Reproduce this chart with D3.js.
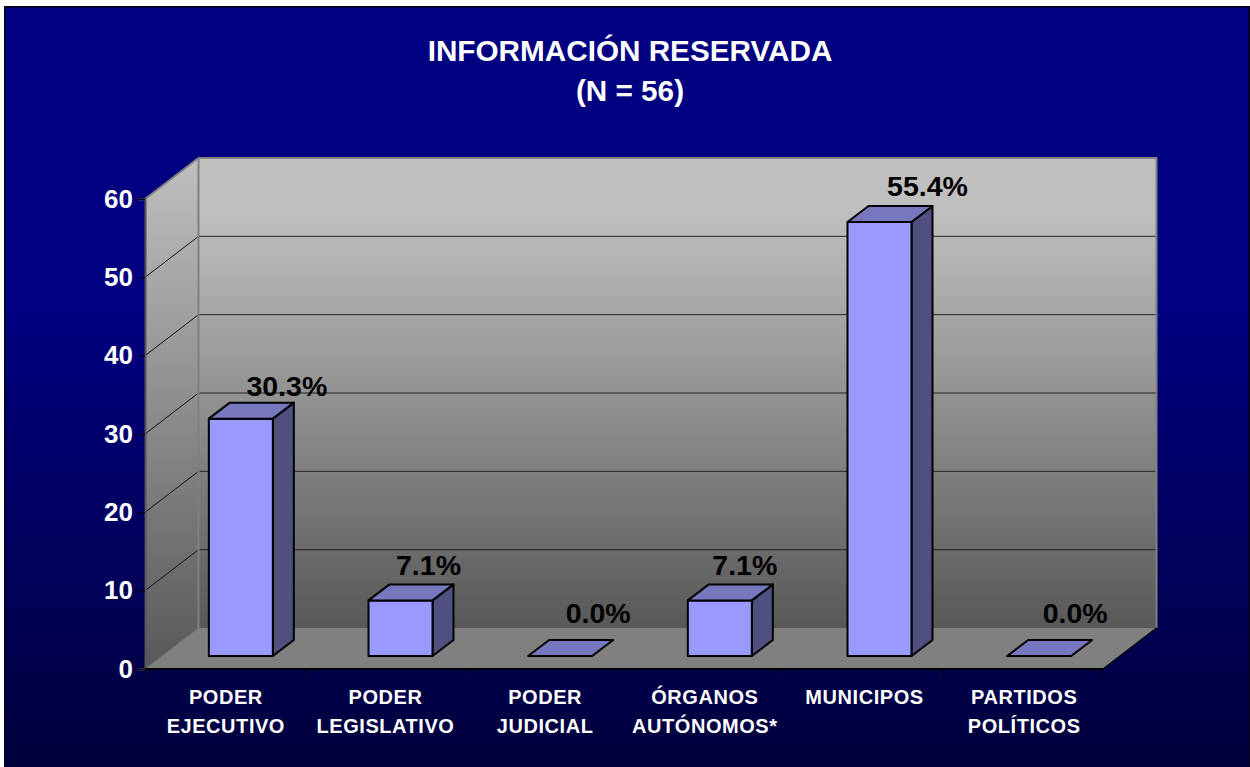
<!DOCTYPE html>
<html><head><meta charset="utf-8">
<script src="https://cdn.jsdelivr.net/npm/d3@7/dist/d3.min.js"></script>
<style>html,body{margin:0;padding:0;background:#fff;overflow:hidden}svg{display:block}text{font-family:"Liberation Sans",Arial,sans-serif;font-weight:700}</style>
</head><body><svg id="c" width="1250" height="767"></svg>
<script>
const titleLines = ["INFORMACIÓN RESERVADA", "(N = 56)"];
const categories = [["PODER","EJECUTIVO"],["PODER","LEGISLATIVO"],["PODER","JUDICIAL"],["ÓRGANOS","AUTÓNOMOS*"],["MUNICIPOS"],["PARTIDOS","POLÍTICOS"]];
const values = [30.3, 7.1, 0.0, 7.1, 55.4, 0.0];
const valueLabels = ["30.3%","7.1%","0.0%","7.1%","55.4%","0.0%"];
const yTicks = [0,10,20,30,40,50,60];
// hand-placed label nudges, as in the original chart
const labelDx = [46,28,38,25,48,36];
const labelDy = [-23,-25,-33,-25,-26,-33];

const svg = d3.select("#c");
const defs = svg.append("defs");
const grad = (id, stops, y1, y2) => {
  const g = defs.append("linearGradient").attr("id", id).attr("gradientUnits","userSpaceOnUse")
    .attr("x1",0).attr("x2",0).attr("y1",y1).attr("y2",y2);
  stops.forEach(s => g.append("stop").attr("offset",s[0]).attr("stop-color",s[1]));
};
grad("bg", [[0,"#000080"],[0.4,"#000080"],[1,"#00003c"]], 7, 767);
grad("wall", [[0,"#c0c0c0"],[0.12,"#bfbfbf"],[1,"#585858"]], 157, 628);
grad("side", [[0,"#c0c0c0"],[1,"#585858"]], 157, 669);

const y = d3.scaleLinear().domain([0,60]).range([669,199]);
const x = d3.scaleBand().domain(d3.range(categories.length)).range([145,1103]);
const DX = 53.5, DY = 41;
const barW = 64, barDX = 21, barDY = 16, barOffX = 16, barOffY = 13;
const poly = (pts) => "M" + pts.map(p => p.join(",")).join("L") + "Z";

// frame
svg.append("rect").attr("x",4).attr("y",6).attr("width",1246).attr("height",761).attr("fill","#00002a");
svg.append("rect").attr("x",6).attr("y",8).attr("width",1242).attr("height",759).attr("fill","url(#bg)");

// title
svg.append("g").selectAll("text").data(titleLines).join("text")
  .attr("x",630).attr("y",(d,i)=>61+i*40).attr("text-anchor","middle")
  .attr("font-size",29.7).attr("fill","#fff").text(d=>d);

const x0 = x.range()[0], x1 = x.range()[1], yB = y(0), yT = y(60);
// walls
svg.append("path").attr("d",poly([[x0,yT],[x0+DX,yT-DY],[x0+DX,yB-DY],[x0,yB]])).attr("fill","url(#side)");
svg.append("rect").attr("x",x0+DX).attr("y",yT-DY).attr("width",x1-x0).attr("height",yB-yT).attr("fill","url(#wall)");
svg.append("path").attr("d",poly([[x0,yB],[x0+DX,yB-DY],[x1+DX,yB-DY],[x1,yB]])).attr("fill","#808080");

// gridlines
const grid = svg.append("g");
yTicks.filter(t=>t>0&&t<60).forEach(t=>{
  grid.append("line").attr("x1",x0).attr("y1",y(t)).attr("x2",x0+DX).attr("y2",y(t)-DY).attr("stroke","#111").attr("stroke-width",1);
  grid.append("line").attr("x1",x0+DX).attr("y1",y(t)-DY).attr("x2",x1+DX).attr("y2",y(t)-DY).attr("stroke","#222").attr("stroke-width",1);
});
// wall edges
svg.append("path").attr("d",`M${x0},${yT}L${x0+DX},${yT-DY}L${x1+DX},${yT-DY}L${x1+DX},${yB-DY}M${x0+DX},${yT-DY}L${x0+DX},${yB-DY}`)
  .attr("fill","none").attr("stroke","#808080").attr("stroke-width",2);
svg.append("line").attr("x1",x1).attr("y1",yB).attr("x2",x1+DX).attr("y2",yB-DY).attr("stroke","#000").attr("stroke-width",1.2);
svg.append("line").attr("x1",x0).attr("y1",yB).attr("x2",x0+DX).attr("y2",yB-DY).attr("stroke","#777").attr("stroke-width",1);

// axes
const yAxis = d3.axisLeft(y).tickValues(yTicks).tickSize(7).tickPadding(5);
const gy = svg.append("g").attr("transform",`translate(${x0},0)`).call(yAxis);
gy.select(".domain").attr("stroke","#555").attr("stroke-width",2);
gy.selectAll(".tick line").attr("stroke","#000");
gy.selectAll("text").attr("font-size",26).attr("fill","#fff").attr("font-family",'"Liberation Sans",Arial,sans-serif').attr("font-weight",700);

const gx = svg.append("g");
gx.append("line").attr("x1",x0).attr("x2",x1).attr("y1",yB).attr("y2",yB).attr("stroke","#000").attr("stroke-width",2);
gx.selectAll("line.t").data(d3.range(categories.length+1)).join("line").attr("class","t")
  .attr("x1",i=>x0+i*x.step()).attr("x2",i=>x0+i*x.step()).attr("y1",yB).attr("y2",yB+7).attr("stroke","#000");
const cat = gx.selectAll("g.c").data(categories).join("g").attr("class","c");
cat.each(function(lines,i){
  d3.select(this).selectAll("text").data(lines).join("text")
    .attr("x",x(i)+x.bandwidth()/2+1).attr("y",(d,j)=>704+j*29).attr("text-anchor","middle")
    .attr("font-size",20).attr("letter-spacing",0.55).attr("fill","#fff").text(d=>d);
});

// bars
const bars = svg.append("g").attr("stroke","#000").attr("stroke-width",2).attr("stroke-linejoin","round");
values.forEach((v,i)=>{
  const l = x(i)+x.bandwidth()/2+barOffX-barW/2, r = l+barW, b = y(0)-barOffY, t = y(v)-barOffY;
  if (v > 0) {
    bars.append("path").attr("d",poly([[r,t],[r+barDX,t-barDY],[r+barDX,b-barDY],[r,b]])).attr("fill","#4f4f80");
    bars.append("rect").attr("x",l).attr("y",t).attr("width",barW).attr("height",b-t).attr("fill","#9999ff");
  }
  bars.append("path").attr("d",poly([[l,t],[l+barDX,t-barDY],[r+barDX,t-barDY],[r,t]])).attr("fill","#7777bf");
});

// value labels
svg.append("g").selectAll("text").data(valueLabels).join("text")
  .attr("x",(d,i)=>x(i)+x.bandwidth()/2+barOffX+labelDx[i])
  .attr("y",(d,i)=>y(values[i])-barOffY+labelDy[i])
  .attr("text-anchor","middle").attr("font-size",28.5).attr("fill","#000").text(d=>d);
</script></body></html>
